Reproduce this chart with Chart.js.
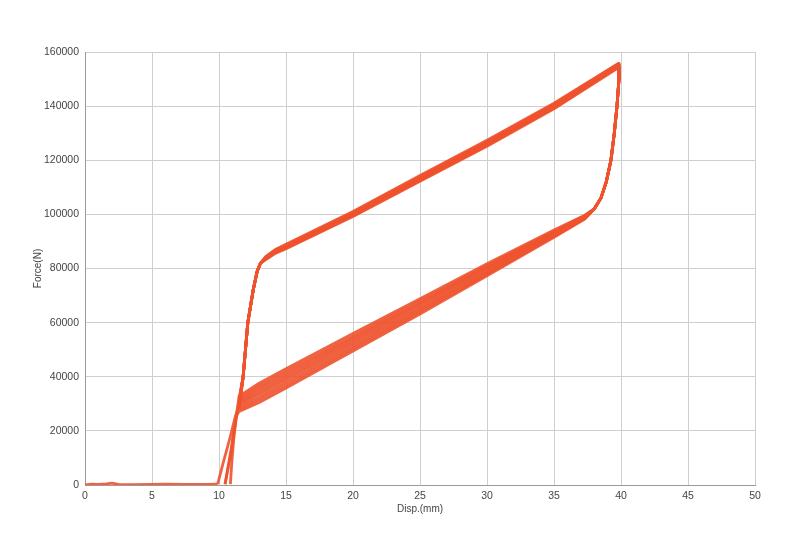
<!DOCTYPE html>
<html>
<head>
<meta charset="utf-8">
<script src="https://cdn.jsdelivr.net/npm/chart.js@4/dist/chart.umd.min.js"></script>
<style>
  html, body { margin: 0; padding: 0; background: #ffffff; }
  #wrap { width: 800px; height: 548px; }
</style>
</head>
<body>
<div id="wrap"><canvas id="c" width="800" height="548"></canvas></div>
<script>
// Axis ticks
const xTicks = [0, 5, 10, 15, 20, 25, 30, 35, 40, 45, 50];
const yTicks = [0, 20000, 40000, 60000, 80000, 100000, 120000, 140000, 160000];

// Baseline before contact [disp(mm), force(N)]
const baseline = [[0,0],[0.5,300],[1,200],[1.6,400],[2,700],[2.5,200],[3.5,100],[5,250],[6,300],[7.5,200],[9,250],[9.9,300]];

// First contact rise (first loading)
const firstRise = [[9.9,300],[10.3,8000],[10.8,17000],[11.2,25000],[11.5,30000]];
// Drop to zero and re-rise after cycle 1
const midDrop = [[11.3,26000],[10.9,12000],[10.45,300]];
const midRise = [[10.45,300],[10.9,13000],[11.35,27000],[11.6,32000]];
// Final unloading to zero
const finalDrop = [[11.3,25500],[11.1,17000],[10.95,8000],[10.85,300]];

// Steep loading branch up to the knee (shared by cycles)
const steepUpX = [11.8, 12.15, 12.55, 12.85, 13.1];
const steepUpY = [40000, 60000, 72000, 79000, 82000];

// Upper (loading) branch, one row per cycle
const upperX = [13.5, 14.2, 15, 20, 25, 30, 35, 39.8];
const upperY = [
  [84500, 87000, 89000, 101100, 114400, 127400, 141100, 155800],
  [84300, 86800, 88700, 100800, 114000, 127000, 140800, 155600],
  [84100, 86600, 88500, 100500, 113700, 126700, 140500, 155400],
  [84000, 86400, 88300, 100300, 113400, 126400, 140200, 155200],
  [83800, 86200, 88000, 100000, 113100, 126100, 139900, 155000],
  [83600, 86000, 87800, 99800, 112800, 125800, 139600, 154700],
  [83500, 85800, 87500, 99500, 112500, 125500, 139300, 154500],
  [83300, 85600, 87300, 99200, 112200, 125200, 139000, 154200]
];

// Steep unloading from peak (shared by cycles)
const steepDownX = [39.85, 39.7, 39.5, 39.25, 38.9, 38.5, 38.0];
const steepDownY = [150000, 140000, 130000, 120000, 112000, 106000, 102000];

// Lower (unloading) branch, one row per cycle
const lowerX = [37.3, 35, 30, 25, 20, 15, 13, 11.5];
const lowerY = [
  [99700, 94200, 81800, 68800, 56000, 43000, 37600, 32800],
  [99100, 93100, 79900, 66500, 53200, 40000, 34600, 30400],
  [99500, 93800, 81100, 68000, 55000, 42000, 36600, 31900],
  [98700, 92300, 78500, 64800, 51300, 37900, 32500, 28800],
  [99300, 93400, 80500, 67200, 54100, 41000, 35600, 31100],
  [98500, 91900, 77900, 64000, 50400, 36800, 31500, 28000],
  [98900, 92700, 79200, 65600, 52300, 39000, 33600, 29700],
  [98300, 91500, 77300, 63200, 49500, 35800, 30500, 27200]
];

const lineColor = 'rgba(238,82,46,0.9)';
const zip = (xs, ys) => xs.map((x, i) => [x, ys[i]]);
const toPts = arr => arr.map(p => ({x: p[0], y: p[1]}));

const series = [baseline];
for (let k = 0; k < upperY.length; k++) {
  let pts = [];
  if (k === 0) pts = pts.concat(firstRise);
  else if (k === 1) pts = pts.concat(midRise);
  else pts.push([lowerX[lowerX.length - 1], lowerY[k - 1][lowerY[k - 1].length - 1]]);
  pts = pts.concat(zip(steepUpX, steepUpY), zip(upperX, upperY[k]), zip(steepDownX, steepDownY), zip(lowerX, lowerY[k]));
  if (k === 0) pts = pts.concat(midDrop);
  if (k === upperY.length - 1) pts = pts.concat(finalDrop);
  series.push(pts);
}

const fontFamily = '"Liberation Sans", Arial, sans-serif';

new Chart(document.getElementById('c'), {
  type: 'scatter',
  data: {
    datasets: series.map(s => ({
      data: toPts(s),
      showLine: true,
      borderColor: lineColor,
      backgroundColor: lineColor,
      borderWidth: 2.8,
      pointRadius: 0,
      tension: 0,
      borderJoinStyle: 'round',
      fill: false
    }))
  },
  options: {
    responsive: false,
    animation: false,
    events: [],
    layout: { padding: { left: 32, top: 52, right: 45, bottom: 33 } },
    plugins: { legend: { display: false }, tooltip: { enabled: false } },
    scales: {
      x: {
        type: 'linear',
        min: 0, max: 50,
        afterBuildTicks: s => { s.ticks = xTicks.map(v => ({value: v})); },
        afterFit: s => { s.height = 30; },
        grid: { color: '#cfcfcf', lineWidth: 1, drawTicks: false },
        border: { color: '#9a9a9a', width: 1 },
        ticks: { padding: 5, color: '#444', font: { family: fontFamily, size: 10.5 }, maxRotation: 0, callback: v => String(v) },
        title: { display: true, text: 'Disp.(mm)', color: '#444', padding: 0, font: { family: fontFamily, size: 10 } }
      },
      y: {
        type: 'linear',
        min: 0, max: 160000,
        afterBuildTicks: s => { s.ticks = yTicks.map(v => ({value: v})); },
        afterFit: s => { s.width = 53; },
        grid: { color: '#cfcfcf', lineWidth: 1, drawTicks: false },
        border: { color: '#9a9a9a', width: 1 },
        ticks: { padding: 6, color: '#444', font: { family: fontFamily, size: 10.5 }, callback: v => String(v) },
        title: { display: true, text: 'Force(N)', color: '#444', padding: 0, font: { family: fontFamily, size: 10 } }
      }
    }
  },
  plugins: [{
    id: 'bg',
    beforeDraw: c => { const ctx = c.ctx; ctx.save(); ctx.fillStyle = '#ffffff'; ctx.fillRect(0, 0, c.width, c.height); ctx.restore(); }
  }]
});
</script>
</body>
</html>
